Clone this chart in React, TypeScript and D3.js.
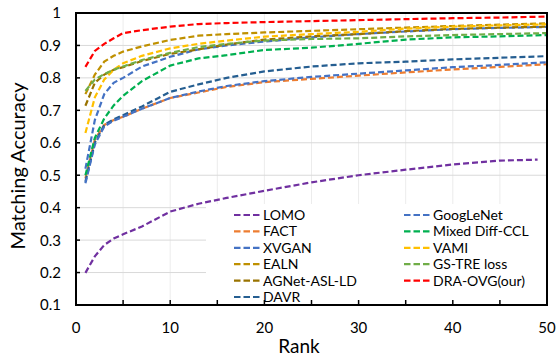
import { useRef, useEffect } from "react";
import * as d3 from "d3";

const ranks = [1, 2, 3, 4, 5, 7, 10, 13, 16, 20, 25, 30, 35, 40, 45, 50];
const lomoRanks = [1, 2, 3, 4, 5, 7, 10, 13, 16, 20, 25, 30, 35, 40, 45, 49];

const lomo = [0.199, 0.25, 0.285, 0.305, 0.318, 0.342, 0.388, 0.412, 0.43, 0.452, 0.478, 0.5, 0.517, 0.533, 0.545, 0.548];
const fact = [0.49, 0.61, 0.655, 0.67, 0.68, 0.705, 0.738, 0.755, 0.772, 0.787, 0.797, 0.807, 0.817, 0.826, 0.834, 0.842];
const xvgan = [0.52, 0.67, 0.75, 0.785, 0.8, 0.835, 0.865, 0.888, 0.9, 0.912, 0.925, 0.935, 0.943, 0.95, 0.954, 0.957];
const ealn = [0.75, 0.81, 0.85, 0.868, 0.881, 0.897, 0.917, 0.93, 0.935, 0.94, 0.945, 0.95, 0.955, 0.96, 0.964, 0.968];
const agnet = [0.714, 0.785, 0.81, 0.825, 0.833, 0.852, 0.874, 0.888, 0.903, 0.918, 0.928, 0.935, 0.944, 0.951, 0.955, 0.958];
const davr = [0.48, 0.6, 0.655, 0.672, 0.685, 0.712, 0.757, 0.78, 0.8, 0.82, 0.835, 0.845, 0.85, 0.857, 0.862, 0.867];
const googlenet = [0.475, 0.595, 0.65, 0.668, 0.68, 0.705, 0.738, 0.758, 0.775, 0.79, 0.803, 0.813, 0.823, 0.833, 0.84, 0.848];
const mixedDiff = [0.5, 0.615, 0.675, 0.715, 0.745, 0.79, 0.838, 0.86, 0.87, 0.886, 0.893, 0.905, 0.918, 0.925, 0.928, 0.932];
const vami = [0.63, 0.74, 0.795, 0.825, 0.845, 0.868, 0.891, 0.905, 0.915, 0.927, 0.935, 0.942, 0.952, 0.958, 0.962, 0.965];
const gsTre = [0.76, 0.795, 0.812, 0.825, 0.835, 0.855, 0.877, 0.895, 0.905, 0.915, 0.92, 0.922, 0.928, 0.932, 0.935, 0.938];
const draOvg = [0.834, 0.883, 0.905, 0.922, 0.938, 0.947, 0.958, 0.966, 0.969, 0.972, 0.975, 0.978, 0.981, 0.984, 0.986, 0.989];

const yTicks = [0.1, 0.2, 0.3, 0.4, 0.5, 0.6, 0.7, 0.8, 0.9, 1];
const xTicks = [0, 10, 20, 30, 40, 50];

const series = [
  { name: "LOMO", color: "#7030A0", x: lomoRanks, y: lomo },
  { name: "FACT", color: "#ED7D31", x: ranks, y: fact },
  { name: "XVGAN", color: "#4472C4", x: ranks, y: xvgan },
  { name: "EALN", color: "#BF9000", x: ranks, y: ealn },
  { name: "AGNet-ASL-LD", color: "#997300", x: ranks, y: agnet },
  { name: "DAVR", color: "#255E91", x: ranks, y: davr },
  { name: "GoogLeNet", color: "#4472C4", x: ranks, y: googlenet },
  { name: "Mixed Diff-CCL", color: "#00B050", x: ranks, y: mixedDiff },
  { name: "VAMI", color: "#FFC000", x: ranks, y: vami },
  { name: "GS-TRE loss", color: "#70AD47", x: ranks, y: gsTre },
  { name: "DRA-OVG(our)", color: "#FF0000", x: ranks, y: draOvg },
];

export default function App() {
  const svgRef = useRef<SVGSVGElement>(null);

  useEffect(() => {
    const w = 557;
    const h = 356;
    const left = 76, right = 547, top = 13, bottom = 305;
    const font = "Lato, 'Open Sans', sans-serif";

    const svg = d3.select(svgRef.current).attr("width", w).attr("height", h);
    svg.selectAll("*").remove();
    svg.append("rect").attr("width", w).attr("height", h).attr("fill", "#fff");

    const x = d3.scaleLinear().domain([0, 50]).range([left, right]);
    const y = d3.scaleLinear().domain([0.1, 1]).range([bottom, top]);

    // grid
    svg.append("g")
      .selectAll("line")
      .data(d3.range(5, 50, 5))
      .enter()
      .append("line")
      .attr("x1", (d) => x(d)).attr("x2", (d) => x(d))
      .attr("y1", top).attr("y2", bottom)
      .attr("stroke", "#ececec");
    svg.append("g")
      .selectAll("line")
      .data(yTicks.slice(1, -1))
      .enter()
      .append("line")
      .attr("x1", left).attr("x2", right)
      .attr("y1", (d) => y(d)).attr("y2", (d) => y(d))
      .attr("stroke", "#d9d9d9");

    // lines
    series.forEach((s) => {
      const line = d3.line<number>()
        .x((_, i) => x(s.x[i]))
        .y((d) => y(d));
      svg.append("path")
        .datum(s.y)
        .attr("d", line)
        .attr("fill", "none")
        .attr("stroke", s.color)
        .attr("stroke-width", 2.2)
        .attr("stroke-dasharray", "6,3");
    });

    // legend box
    svg.append("rect")
      .attr("x", 206).attr("y", 204)
      .attr("width", right - 206).attr("height", bottom - 204)
      .attr("fill", "#fff");
    const rowY = (i: number) => 215 + i * 16.4;
    series.forEach((s, i) => {
      const col = i < 6 ? 0 : 1;
      const row = i < 6 ? i : i - 6;
      const lx = col === 0 ? 234 : 404;
      const g = svg.append("g");
      g.append("line")
        .attr("x1", lx).attr("x2", lx + 26)
        .attr("y1", rowY(row)).attr("y2", rowY(row))
        .attr("stroke", s.color)
        .attr("stroke-width", 2.2)
        .attr("stroke-dasharray", "6.5,3");
      g.append("text")
        .attr("x", lx + 29).attr("y", rowY(row))
        .attr("dy", "0.35em")
        .style("font-family", font)
        .style("font-size", "14px")
        .attr("fill", "#000")
        .text(s.name);
    });

    // ticks (inside)
    svg.append("g")
      .selectAll("line")
      .data(d3.range(5, 50, 5))
      .enter()
      .append("line")
      .attr("x1", (d) => x(d)).attr("x2", (d) => x(d))
      .attr("y1", bottom).attr("y2", bottom - 5)
      .attr("stroke", "#000").attr("stroke-width", 1.5);
    svg.append("g")
      .selectAll("line")
      .data(yTicks.slice(1, -1))
      .enter()
      .append("line")
      .attr("x1", left).attr("x2", left + 4)
      .attr("y1", (d) => y(d)).attr("y2", (d) => y(d))
      .attr("stroke", "#000").attr("stroke-width", 1.5);

    // frame
    svg.append("rect")
      .attr("x", left).attr("y", top)
      .attr("width", right - left).attr("height", bottom - top)
      .attr("fill", "none")
      .attr("stroke", "#000")
      .attr("stroke-width", 2);

    // tick labels
    svg.append("g")
      .selectAll("text")
      .data(yTicks)
      .enter()
      .append("text")
      .attr("x", 61)
      .attr("y", (d) => y(d))
      .attr("dy", "0.36em")
      .attr("text-anchor", "end")
      .style("font-family", font)
      .style("font-size", "15px")
      .text((d) => (d === 1 ? "1" : d3.format(".1f")(d)));
    svg.append("g")
      .selectAll("text")
      .data(xTicks)
      .enter()
      .append("text")
      .attr("x", (d) => x(d))
      .attr("y", 333)
      .attr("text-anchor", "middle")
      .style("font-family", font)
      .style("font-size", "15px")
      .text((d) => d);

    // axis titles
    svg.append("text")
      .attr("x", 299).attr("y", 353)
      .attr("text-anchor", "middle")
      .style("font-family", font)
      .style("font-size", "19px")
      .text("Rank");
    svg.append("text")
      .attr("transform", "translate(25,166) rotate(-90)")
      .attr("text-anchor", "middle")
      .style("font-family", font)
      .style("font-size", "20px")
      .text("Matching Accuracy");
  }, []);

  return <svg ref={svgRef} style={{ position: "absolute", left: 0, top: 0 }}></svg>;
}
